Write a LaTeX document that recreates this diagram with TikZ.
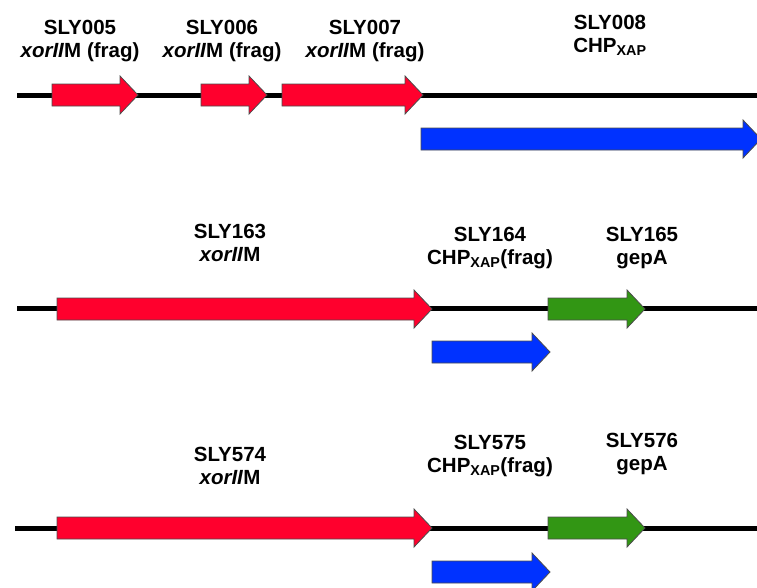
\documentclass[tikz,border=0pt]{standalone}
\usepackage{fontspec}
\setmainfont{Liberation Sans}
\usepackage{xcolor}
\usepackage{tikz}
\definecolor{genered}{RGB}{255,0,45}
\definecolor{geneblue}{RGB}{0,50,255}
\definecolor{genegreen}{RGB}{50,150,20}

\begin{document}
\begin{tikzpicture}[x=1pt,y=-1pt,
  gene/.style={draw=black!70,line width=0.8pt,line join=miter},
  dna/.style={line width=5pt},
  lbl/.style={anchor=base,inner sep=0.75pt,align=center,font=\fontsize{20.5}{23}\selectfont\bfseries}]
\useasboundingbox (0,0) rectangle (757,587);
% backbones
\draw [dna](17,95) -- (757,95) ;
\draw [dna](17,308) -- (757,308) ;
\draw [dna](15,528) -- (757,528) ;
% locus 1
\draw [gene,fill=genered](52,84) -- ++(68,0) -- ++(0,-8) -- ++(18,19) -- ++(-18,19) -- ++(0,-8) -- ++(-68,0) -- cycle;
\draw [gene,fill=genered](201,84) -- ++(48,0) -- ++(0,-8) -- ++(18,19) -- ++(-18,19) -- ++(0,-8) -- ++(-48,0) -- cycle;
\draw [gene,fill=genered](282,84) -- ++(123,0) -- ++(0,-8) -- ++(18,19) -- ++(-18,19) -- ++(0,-8) -- ++(-123,0) -- cycle;
\draw [gene,fill=geneblue](421,128) -- ++(322,0) -- ++(0,-8) -- ++(18,19) -- ++(-18,19) -- ++(0,-8) -- ++(-322,0) -- cycle;
% locus 2
\draw [gene,fill=genered](57,298) -- ++(357,0) -- ++(0,-8) -- ++(18,19) -- ++(-18,19) -- ++(0,-8) -- ++(-357,0) -- cycle;
\draw [gene,fill=geneblue](432,341) -- ++(100,0) -- ++(0,-8) -- ++(18,19) -- ++(-18,19) -- ++(0,-8) -- ++(-100,0) -- cycle;
\draw [gene,fill=genegreen](548,298) -- ++(79,0) -- ++(0,-8) -- ++(18,19) -- ++(-18,19) -- ++(0,-8) -- ++(-79,0) -- cycle;
% locus 3
\draw [gene,fill=genered](57,517) -- ++(357,0) -- ++(0,-8) -- ++(18,19) -- ++(-18,19) -- ++(0,-8) -- ++(-357,0) -- cycle;
\draw [gene,fill=geneblue](432,561) -- ++(100,0) -- ++(0,-8) -- ++(18,19) -- ++(-18,19) -- ++(0,-8) -- ++(-100,0) -- cycle;
\draw [gene,fill=genegreen](548,517) -- ++(79,0) -- ++(0,-8) -- ++(18,19) -- ++(-18,19) -- ++(0,-8) -- ++(-79,0) -- cycle;
% labels (base = second line)
\draw (80,57) node [lbl] (sly005) {SLY005\\\textit{xorII}M (frag)};
\draw (222,57) node [lbl] (sly006) {SLY006\\\textit{xorII}M (frag)};
\draw (365,57) node [lbl] (sly007) {SLY007\\\textit{xorII}M (frag)};
\draw (610,52) node [lbl] (sly008) {SLY008\\CHP\textsubscript{XAP}};
\draw (230,261) node [lbl] (sly163) {SLY163\\\textit{xorII}M};
\draw (490,264) node [lbl] (sly164) {SLY164\\CHP\textsubscript{XAP}(frag)};
\draw (642,264) node [lbl] (sly165) {SLY165\\gepA};
\draw (230,484) node [lbl] (sly574) {SLY574\\\textit{xorII}M};
\draw (490,472) node [lbl] (sly575) {SLY575\\CHP\textsubscript{XAP}(frag)};
\draw (642,470) node [lbl] (sly576) {SLY576\\gepA};
\end{tikzpicture}
\end{document}
